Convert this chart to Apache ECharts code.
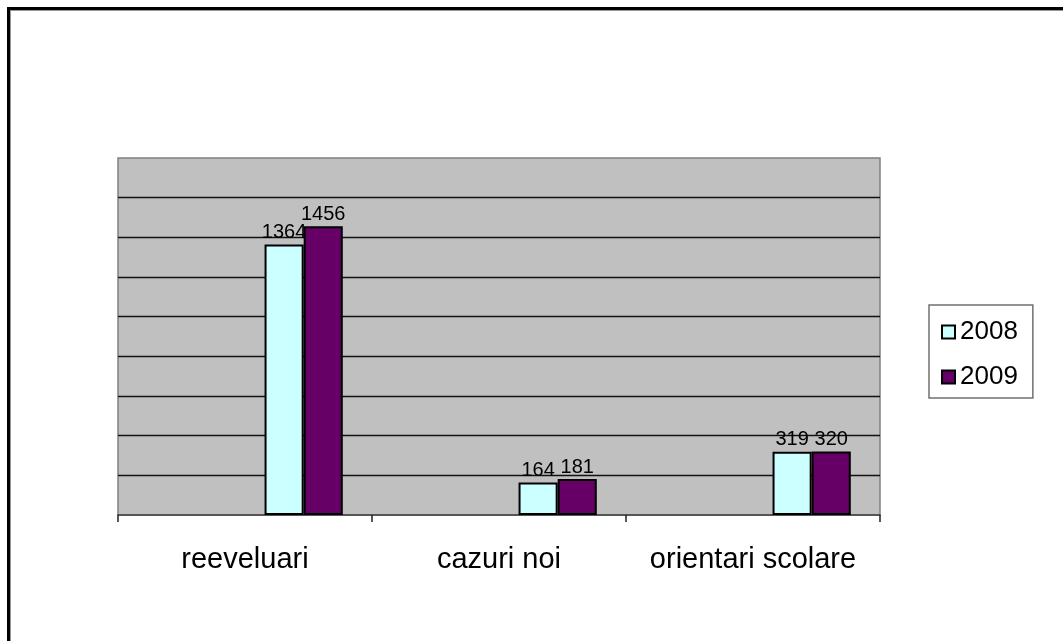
<!DOCTYPE html>
<html>
<head>
<meta charset="utf-8">
<script src="https://cdn.jsdelivr.net/npm/echarts@6/dist/echarts.min.js"></script>
<style>
  html, body { margin: 0; padding: 0; background: #fff; overflow: hidden; }
  #frame {
    position: absolute; left: 7px; top: 7px; width: 1100px; height: 700px;
    border-top: 3px solid #000; border-left: 3px solid #000;
    box-shadow: inset 1px 1px 0 #999;
  }
  #chart { position: absolute; left: 0; top: 0; width: 1063px; height: 641px; }
</style>
</head>
<body>
<div id="frame"></div>
<div id="chart"></div>
<script>
// categorii si valori
const categories = ['reeveluari', 'cazuri noi', 'orientari scolare']
const years = ['2008', '2009']
const values2008 = [1364, 164, 319]
const values2009 = [1456, 181, 320]
// in Excel graficul are 5 serii, primele trei goale (de aceea barele sunt mutate spre dreapta)
const emptySlot = ['-', '-', '-']

const font = 'Arial, "Liberation Sans", sans-serif'
const myChart = echarts.init(document.getElementById('chart'))

function barSeries(name, data, color) {
  return {
    name: name,
    type: 'bar',
    data: data,
    itemStyle: { color: color, borderColor: '#000', borderWidth: 2 },
    label: {
      show: true,
      position: 'top',
      distance: 2,
      color: '#000',
      fontFamily: font,
      fontSize: 20,
    },
  }
}

let option = {
  animation: false,
  backgroundColor: 'transparent',
  grid: {
    left: 118, top: 158, width: 762, height: 357,
    show: true, backgroundColor: '#C0C0C0', borderColor: '#808080', borderWidth: 1.5,
  },
  legend: {
    data: years,
    orient: 'vertical',
    left: 929, top: 305,
    padding: [14, 15, 8, 12],
    itemGap: 19,
    itemWidth: 13, itemHeight: 13,
    icon: 'rect',
    borderColor: '#707070', borderWidth: 1.5,
    textStyle: { fontFamily: font, fontSize: 26, color: '#000', lineHeight: 26 },
  },
  xAxis: {
    type: 'category',
    data: categories,
    axisLine: { lineStyle: { color: '#404040', width: 1.5 } },
    axisTick: { show: true, interval: 0, alignWithLabel: false, length: 7, lineStyle: { color: '#202020', width: 1.5 } },
    axisLabel: { interval: 0, hideOverlap: false, margin: 30, color: '#000', fontFamily: font, fontSize: 29 },
  },
  yAxis: {
    type: 'value',
    min: 0, max: 1800, interval: 200,
    axisLabel: { show: false },
    axisLine: { show: false },
    axisTick: { show: false },
    splitLine: { showMinLine: false, showMaxLine: false, lineStyle: { color: '#111', width: 1.3 } },
  },
  series: [
    { name: 'gol1', type: 'bar', data: emptySlot, barGap: '0%', barCategoryGap: '23%' },
    { name: 'gol2', type: 'bar', data: emptySlot },
    { name: 'gol3', type: 'bar', data: emptySlot },
    barSeries(years[0], values2008, '#CCFFFF'),
    barSeries(years[1], values2009, '#660066'),
  ],
}
myChart.setOption(option)
</script>
</body>
</html>
